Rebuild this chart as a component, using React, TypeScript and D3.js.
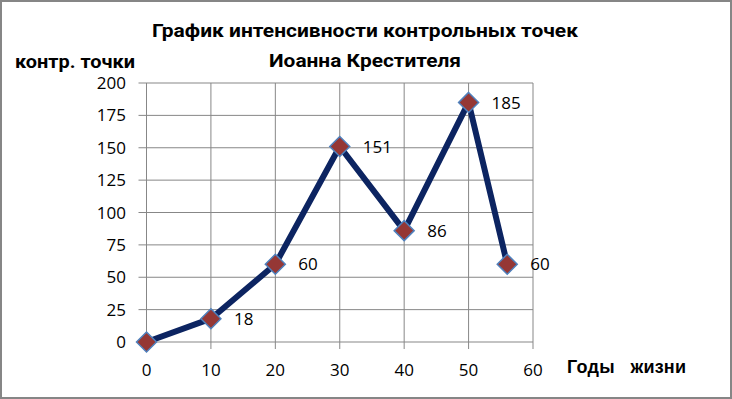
import React from "react";
import * as d3 from "d3";

const years = [0, 10, 20, 30, 40, 50, 56];
const points = [0, 18, 60, 151, 86, 185, 60];
const dataLabels = ["", "18", "60", "151", "86", "185", "60"];
const yTicks = [0, 25, 50, 75, 100, 125, 150, 175, 200];
const xTicks = [0, 10, 20, 30, 40, 50, 60];
const titleLines = ["График интенсивности контрольных точек", "Иоанна Крестителя"];
const titleWidths = [426, 192];
const yTitle = "контр. точки";
const xTitle = "Годы   жизни";

const W = 732, H = 399;
const left = 146.5, right = 533, top = 83, bottom = 342;

export default function App() {
  const x = d3.scaleLinear().domain([0, 60]).range([left, right]);
  const y = d3.scaleLinear().domain([0, 200]).range([bottom, top]);
  const line = d3.line<number>().x((_, i) => x(years[i])).y((d) => y(d));
  const numFont = "'Open Sans', sans-serif";
  const diamond = (cx: number, cy: number, r: number) =>
    `M${cx},${cy - r}L${cx + r},${cy}L${cx},${cy + r}L${cx - r},${cy}Z`;
  return (
    <div style={{ position: "absolute", left: 0, top: 0 }}>
      <svg width={W} height={H} style={{ display: "block" }}>
        <rect x={1} y={1} width={W - 2} height={H - 2} fill="#fff" stroke="#868686" strokeWidth={2} />
        {yTicks.map((t) => (
          <g key={"y" + t}>
            <line x1={left - 8} x2={right} y1={y(t)} y2={y(t)} stroke="#878787" strokeWidth={1} />
            <text x={126} y={y(t)} dy="0.36em" textAnchor="end" fontFamily={numFont} fontSize={17} fill="#000">
              {t}
            </text>
          </g>
        ))}
        {xTicks.map((t) => (
          <g key={"x" + t}>
            <line x1={x(t)} x2={x(t)} y1={top} y2={bottom + 7} stroke="#878787" strokeWidth={1} />
            <text x={x(t)} y={376} textAnchor="middle" fontFamily={numFont} fontSize={17} fill="#000">
              {t}
            </text>
          </g>
        ))}
        <path d={line(points) || ""} fill="none" stroke="#0c2461" strokeWidth={6} strokeLinejoin="round" />
        {points.map((p, i) => (
          <path key={"m" + i} d={diamond(x(years[i]), y(p), 10)} fill="#953735" stroke="#4f81bd" strokeWidth={1.5} />
        ))}
        {points.map((p, i) => (
          <text key={"l" + i} x={x(years[i]) + 23} y={y(p)} dy="0.36em" fontFamily={numFont} fontSize={17} fill="#000">
            {dataLabels[i]}
          </text>
        ))}
        {titleLines.map((t, i) => (
          <text key={"t" + i} x={365} y={37 + i * 30} textAnchor="middle" fontFamily="Roboto, sans-serif" fontWeight="bold" fontSize={19} textLength={titleWidths[i]} lengthAdjust="spacingAndGlyphs" fill="#000">
            {t}
          </text>
        ))}
        <text x={15} y={68} fontFamily="Roboto, sans-serif" fontWeight="bold" fontSize={18} textLength={120} lengthAdjust="spacingAndGlyphs" fill="#000">
          {yTitle}
        </text>
        <text x={567} y={373} fontFamily="'Liberation Sans', Arial, sans-serif" fontWeight="bold" fontSize={18} textLength={119} lengthAdjust="spacing" fill="#000" style={{ whiteSpace: "pre" }}>
          {xTitle}
        </text>
      </svg>
    </div>
  );
}
